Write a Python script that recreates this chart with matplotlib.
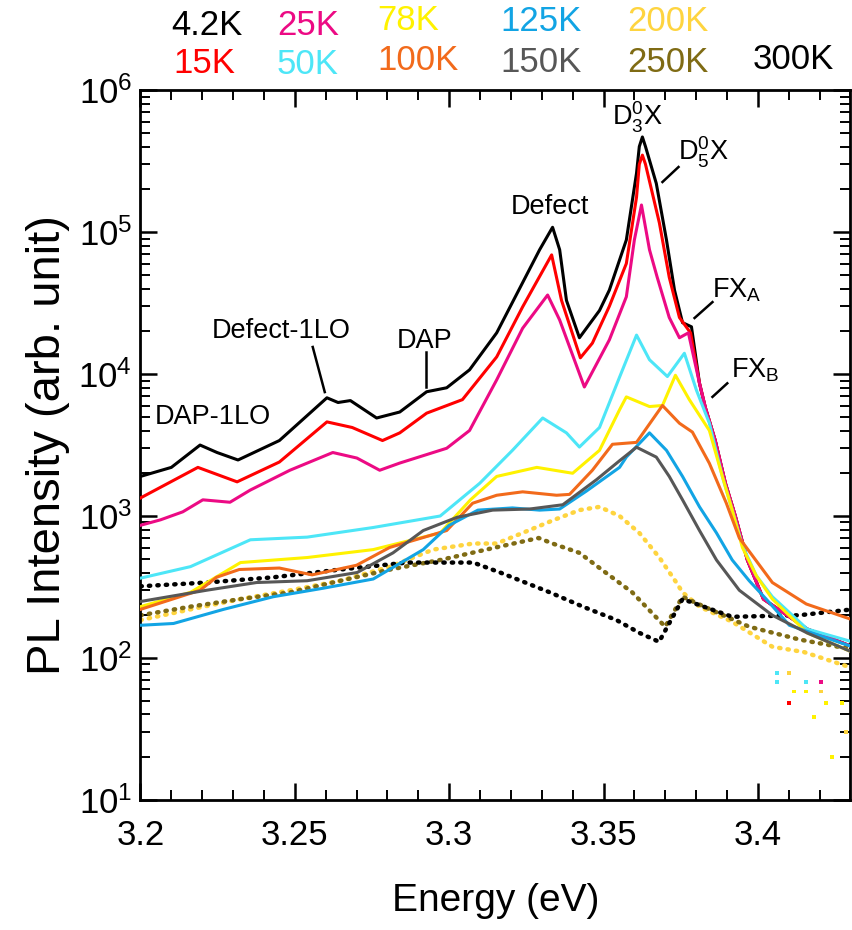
import numpy as np
import matplotlib
matplotlib.use("Agg")
import matplotlib.pyplot as plt
from matplotlib.ticker import MultipleLocator, FuncFormatter, LogLocator, NullFormatter

plt.rcParams["font.family"] = ["Liberation Sans", "DejaVu Sans"]
plt.rcParams["mathtext.fontset"] = "custom"
plt.rcParams["mathtext.rm"] = "Liberation Sans"
plt.rcParams["mathtext.it"] = "Liberation Sans:italic"
plt.rcParams["mathtext.bf"] = "Liberation Sans:bold"

# ----------------------------------------------------------------------
# Spectra: energy (eV) and PL intensity (arb. unit)
# ----------------------------------------------------------------------
E_4K = [3.200, 3.210, 3.2193, 3.2248, 3.2316, 3.245, 3.2604, 3.264, 3.268,
        3.2765, 3.284, 3.2927, 3.2992, 3.3066, 3.3154, 3.3238, 3.3293,
        3.3335, 3.3358, 3.3380, 3.3422, 3.3487, 3.3519, 3.3574, 3.3607,
        3.3616, 3.3626, 3.3636, 3.3671, 3.3704, 3.3730, 3.3756, 3.3785,
        3.3811, 3.3830, 3.3862, 3.3895, 3.3927, 3.3966, 3.4018, 3.4160,
        3.4306]
I_4K = [1.9e3, 2.2e3, 3.16e3, 2.8e3, 2.48e3, 3.4e3, 6.8e3, 6.3e3, 6.5e3,
        4.9e3, 5.4e3, 7.5e3, 8.0e3, 1.07e4, 1.95e4, 4.4e4, 7.5e4,
        1.08e5, 7.5e4, 3.3e4, 1.8e4, 2.8e4, 3.9e4, 8.8e4, 2.6e5,
        4.0e5, 4.67e5, 4.0e5, 2.2e5, 8.8e4, 3.9e4, 2.3e4, 2.15e4,
        8.6e3, 5.8e3, 3.4e3, 1.7e3, 1.0e3, 4.9e2, 2.6e2, 1.6e2,
        1.2e2]

E_15K = [3.200, 3.2186, 3.2313, 3.245, 3.2604, 3.2686, 3.2784, 3.2840,
         3.2927, 3.3043, 3.3154, 3.3238, 3.3332, 3.3364, 3.3425, 3.3464,
         3.3519, 3.3574, 3.3607, 3.3616, 3.3626, 3.3636, 3.3681, 3.3713,
         3.3746, 3.3782, 3.3811, 3.3830, 3.3862, 3.3895, 3.3927, 3.3966,
         3.4018, 3.4160, 3.4306]
I_15K = [1.34e3, 2.2e3, 1.74e3, 2.4e3, 4.6e3, 4.2e3, 3.4e3, 3.85e3,
         5.3e3, 6.6e3, 1.32e4, 2.97e4, 6.9e4, 3.3e4, 1.3e4, 1.65e4,
         3.0e4, 6.0e4, 1.76e5, 3.0e5, 3.48e5, 3.0e5, 1.16e5, 4.8e4,
         2.5e4, 1.95e4, 8.6e3, 5.8e3, 3.4e3, 1.7e3, 1.0e3, 4.9e2,
         2.6e2, 1.6e2, 1.2e2]

E_25K = [3.200, 3.2065, 3.2137, 3.2202, 3.2290, 3.2355, 3.2484, 3.2623,
         3.2701, 3.2775, 3.2840, 3.2992, 3.3066, 3.3154, 3.3238, 3.3319,
         3.3358, 3.3438, 3.3519, 3.3574, 3.3600, 3.3623, 3.3649, 3.3674,
         3.3713, 3.3746, 3.3775, 3.3811, 3.3830, 3.3862, 3.3895, 3.3927,
         3.3966, 3.4018, 3.4160, 3.4306]
I_25K = [8.6e2, 9.4e2, 1.07e3, 1.3e3, 1.25e3, 1.52e3, 2.1e3, 2.8e3,
         2.56e3, 2.1e3, 2.36e3, 3.0e3, 4.0e3, 9.1e3, 2.1e4, 3.6e4,
         2.4e4, 8.1e3, 1.74e4, 3.5e4, 8.8e4, 1.55e5, 7.5e4, 4.8e4,
         2.5e4, 1.8e4, 1.95e4, 8.6e3, 5.8e3, 3.4e3, 1.7e3, 1.0e3,
         4.9e2, 2.6e2, 1.6e2, 1.2e2]

E_50K = [3.200, 3.2162, 3.2356, 3.2540, 3.2754, 3.2971, 3.3099, 3.3205,
         3.3303, 3.3380, 3.3422, 3.3487, 3.3552, 3.3607, 3.3649, 3.3707,
         3.3762, 3.3801, 3.3843, 3.3885, 3.3917, 3.3950, 3.3995, 3.4047,
         3.4160, 3.4306]
I_50K = [3.65e2, 4.4e2, 6.8e2, 7.1e2, 8.3e2, 1.0e3, 1.7e3, 2.9e3,
         4.9e3, 3.85e3, 3.06e3, 4.2e3, 9.5e3, 1.88e4, 1.26e4, 9.6e3,
         1.4e4, 7.7e3, 4.5e3, 1.9e3, 1.1e3, 6.2e2, 3.8e2, 2.7e2,
         1.6e2, 1.3e2]

E_78K = [3.200, 3.2162, 3.2324, 3.2540, 3.2754, 3.2971, 3.3069, 3.3154,
         3.3284, 3.3400, 3.3487, 3.3552, 3.3574, 3.3649, 3.3691, 3.3733,
         3.3778, 3.3843, 3.3885, 3.3917, 3.3950, 3.3995, 3.4047, 3.4160,
         3.4306]
I_78K = [2.3e2, 2.9e2, 4.7e2, 5.1e2, 5.8e2, 7.6e2, 1.3e3, 1.9e3,
         2.2e3, 2.0e3, 2.9e3, 5.6e3, 6.9e3, 5.9e3, 6.0e3, 9.8e3,
         6.6e3, 4.0e3, 1.9e3, 1.1e3, 6.0e2, 3.8e2, 2.6e2, 1.5e2,
         1.1e2]

E_100K = [3.200, 3.2193, 3.2246, 3.2320, 3.2450, 3.2556, 3.2700, 3.2807,
          3.2992, 3.3076, 3.3154, 3.3238, 3.3348, 3.3390, 3.3464, 3.3529,
          3.3607, 3.3691, 3.3746, 3.3788, 3.3843, 3.3898, 3.3940, 3.4047,
          3.4157, 3.4306]
I_100K = [2.2e2, 3.0e2, 3.7e2, 4.2e2, 4.3e2, 3.85e2, 4.5e2, 6.0e2,
          7.9e2, 1.23e3, 1.4e3, 1.48e3, 1.4e3, 1.42e3, 2.1e3, 3.2e3,
          3.3e3, 6.0e3, 4.5e3, 3.9e3, 2.35e3, 1.23e3, 7.0e2, 3.4e2,
          2.4e2, 1.86e2]

E_125K = [3.200, 3.2107, 3.2269, 3.2430, 3.2592, 3.2754, 3.2916, 3.3000,
          3.3093, 3.3205, 3.3293, 3.3358, 3.3445, 3.3552, 3.3574, 3.3649,
          3.3704, 3.3756, 3.3811, 3.3866, 3.3917, 3.3972, 3.4027, 3.4102,
          3.4306]
I_125K = [1.7e2, 1.75e2, 2.2e2, 2.7e2, 3.1e2, 3.6e2, 5.8e2, 8.6e2,
          1.1e3, 1.14e3, 1.1e3, 1.12e3, 1.5e3, 2.2e3, 2.6e3, 3.85e3,
          2.9e3, 1.9e3, 1.16e3, 7.6e2, 4.9e2, 3.5e2, 2.6e2, 1.7e2,
          1.2e2]

E_150K = [3.200, 3.2214, 3.2376, 3.2540, 3.2702, 3.2818, 3.2916, 3.3026,
          3.3141, 3.3261, 3.3368, 3.3477, 3.3552, 3.3607, 3.3671, 3.3713,
          3.3756, 3.3811, 3.3866, 3.3940, 3.4047, 3.4160, 3.4306]
I_150K = [2.5e2, 3.0e2, 3.4e2, 3.5e2, 4.0e2, 5.5e2, 7.9e2, 9.8e2,
          1.1e3, 1.12e3, 1.2e3, 1.8e3, 2.45e3, 3.05e3, 2.6e3, 1.9e3,
          1.3e3, 7.9e2, 4.9e2, 3.0e2, 2.0e2, 1.5e2, 1.1e2]

E_200K = [3.200, 3.2162, 3.2324, 3.2486, 3.2648, 3.2809, 3.2948, 3.3078,
          3.3154, 3.3238, 3.3335, 3.3422, 3.3487, 3.3552, 3.3616, 3.3681,
          3.3736, 3.3756, 3.3811, 3.3917, 3.4047, 3.4150, 3.4306]
I_200K = [1.85e2, 2.2e2, 2.6e2, 3.0e2, 3.5e2, 4.4e2, 5.8e2, 6.4e2,
          6.4e2, 7.6e2, 9.3e2, 1.1e3, 1.16e3, 1.0e3, 7.6e2, 5.1e2,
          3.4e2, 2.9e2, 2.3e2, 1.8e2, 1.2e2, 1.1e2, 85]

E_250K = [3.200, 3.2162, 3.2324, 3.2486, 3.2648, 3.2809, 3.2971, 3.3165,
          3.3290, 3.3335, 3.3422, 3.3500, 3.3593, 3.3700, 3.3756, 3.3866,
          3.3972, 3.4134, 3.4306]
I_250K = [2.0e2, 2.3e2, 2.6e2, 2.9e2, 3.5e2, 4.2e2, 4.9e2, 6.1e2,
          7.0e2, 6.4e2, 5.5e2, 4.1e2, 2.9e2, 1.66e2, 2.7e2, 2.1e2,
          1.66e2, 1.35e2, 1.15e2]

E_300K = [3.200, 3.2214, 3.2430, 3.2648, 3.2864, 3.3078, 3.3165, 3.3326,
          3.3433, 3.3542, 3.3617, 3.3680, 3.3756, 3.3917, 3.4134, 3.4306]
I_300K = [3.2e2, 3.4e2, 3.7e2, 4.2e2, 4.7e2, 4.7e2, 4.0e2, 2.9e2,
          2.3e2, 1.85e2, 1.5e2, 1.3e2, 2.6e2, 1.95e2, 2.0e2, 2.2e2]

# isolated low-count points at the high-energy end (series label, E, I)
TAIL_LAB = ["50K", "50K", "50K", "78K", "78K", "78K", "78K", "78K", "78K",
            "15K", "25K", "200K", "200K", "200K"]
TAIL_E = [3.4063, 3.4063, 3.4157, 3.4118, 3.4157, 3.4221, 3.4273, 3.4183,
          3.4241, 3.4102, 3.4205, 3.4102, 3.4205, 3.4286]
TAIL_I = [78, 68, 68, 58, 58, 48, 48, 38.5, 20, 48, 68, 78, 58, 30]

LABELS = ["4.2K", "15K", "25K", "50K", "78K", "100K", "125K", "150K",
          "200K", "250K", "300K"]
COLORS = ["#000000", "#ff0000", "#ec0a84", "#4de6f7", "#fff200", "#f26a1b",
          "#12a4e4", "#575757", "#fed43f", "#7f6b14", "#000000"]
SPECTRA = [(E_4K, I_4K), (E_15K, I_15K), (E_25K, I_25K), (E_50K, I_50K),
           (E_78K, I_78K), (E_100K, I_100K), (E_125K, I_125K),
           (E_150K, I_150K), (E_200K, I_200K), (E_250K, I_250K),
           (E_300K, I_300K)]
NOISY = {"200K", "250K", "300K"}

fig = plt.figure(figsize=(8.53, 9.30), dpi=100)
ax = fig.add_axes([0.1647, 0.1398, 0.8323, 0.7634])

for lab, col, (e, i) in zip(LABELS, COLORS, SPECTRA):
    if lab in NOISY:
        ax.plot(e, i, color=col, lw=3.2, ls=(0, (0.3, 1.6)),
                dash_capstyle="round", zorder=2)
    else:
        ax.plot(e, i, color=col, lw=2.2, zorder=3,
                solid_joinstyle="round")

col_of = dict(zip(LABELS, COLORS))
ax.scatter(TAIL_E, TAIL_I, s=7, marker="s", linewidths=0,
           c=[col_of[l] for l in TAIL_LAB], zorder=2)

ax.set_yscale("log")
ax.set_xlim(3.2, 3.43)
ax.set_ylim(10, 1e6)
ax.xaxis.set_major_locator(MultipleLocator(0.05))
ax.xaxis.set_minor_locator(MultipleLocator(0.01))
ax.xaxis.set_major_formatter(FuncFormatter(lambda v, p: "%g" % round(v, 3)))
ax.yaxis.set_major_locator(LogLocator(base=10))
ax.yaxis.set_minor_locator(LogLocator(base=10, subs=np.arange(2, 10)))
ax.yaxis.set_minor_formatter(NullFormatter())

ax.tick_params(which="both", direction="in", top=True, right=True)
ax.tick_params(which="major", length=12, width=1.8, labelsize=25)
ax.tick_params(which="minor", length=7, width=1.4)
ax.tick_params(axis="x", which="major", pad=14)
ax.tick_params(axis="y", which="major", pad=6)
for sp in ax.spines.values():
    sp.set_linewidth(2)

ax.set_xlabel("Energy (eV)", fontsize=28, labelpad=22)
ax.set_ylabel("PL Intensity (arb. unit)", fontsize=34, labelpad=6)

# peak annotations
fs = 19.5
ax.text(3.2047, 4.98e3, "DAP-1LO", fontsize=fs, va="center", ha="left")
ax.text(3.2455, 2.0e4, "Defect-1LO", fontsize=fs, va="center", ha="center")
ax.plot([3.2558, 3.2597], [1.55e4, 7.46e3], color="k", lw=1.8)
ax.text(3.2921, 1.71e4, "DAP", fontsize=fs, va="center", ha="center")
ax.plot([3.2924, 3.2924], [1.43e4, 8.1e3], color="k", lw=1.8)
ax.text(3.3327, 1.5e5, "Defect", fontsize=fs, va="center", ha="center")
ax.text(3.3610, 6.46e5, r"D$^0_3$X", fontsize=fs, va="center", ha="center")
ax.text(3.3824, 3.66e5, r"D$^0_5$X", fontsize=fs, va="center", ha="center")
ax.plot([3.3691, 3.3743], [2.25e5, 2.87e5], color="k", lw=1.8)
ax.text(3.3853, 3.9e4, r"FX$_\mathrm{A}$", fontsize=fs, va="center", ha="left")
ax.plot([3.3795, 3.3853], [2.48e4, 3.21e4], color="k", lw=1.8)
ax.text(3.3914, 1.07e4, r"FX$_\mathrm{B}$", fontsize=fs, va="center", ha="left")
ax.plot([3.3853, 3.3901], [6.9e3, 8.6e3], color="k", lw=1.8)

# temperature key above the frame
KEY_POS = {"4.2K": (171, 35), "25K": (277, 35), "78K": (377, 30),
           "125K": (500, 31), "200K": (627, 31), "15K": (173, 73),
           "50K": (277, 74), "100K": (377, 70), "150K": (500, 72),
           "250K": (627, 72), "300K": (753, 69)}
for lab, col in zip(LABELS, COLORS):
    px, py = KEY_POS[lab]
    fig.text(px / 853, 1 - py / 930, lab, color=col, fontsize=25,
             ha="left", va="baseline")

fig.savefig("out.png", dpi=100)
